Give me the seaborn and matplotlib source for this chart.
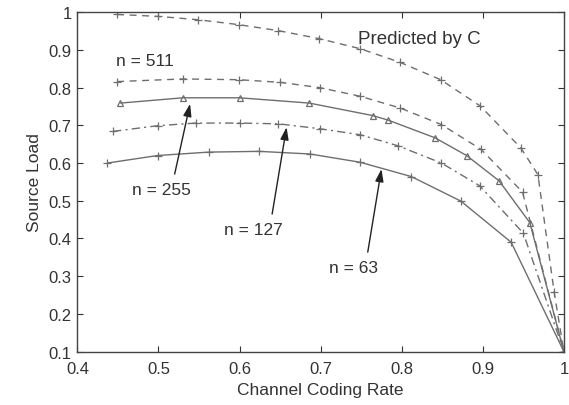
import matplotlib
matplotlib.use("Agg")
import matplotlib.pyplot as plt
import seaborn as sns
import pandas as pd

# Data
pred_x = [0.449, 0.499, 0.549, 0.599, 0.648, 0.698, 0.749, 0.798, 0.848, 0.897, 0.947, 0.968, 0.988, 1.0]
pred_y = [0.994, 0.989, 0.980, 0.967, 0.951, 0.930, 0.903, 0.867, 0.821, 0.751, 0.640, 0.569, 0.258, 0.1]

n511_x = [0.449, 0.530, 0.599, 0.650, 0.699, 0.749, 0.798, 0.849, 0.898, 0.949, 1.0]
n511_y = [0.816, 0.823, 0.821, 0.814, 0.800, 0.777, 0.746, 0.702, 0.636, 0.523, 0.1]

n255_x = [0.453, 0.530, 0.600, 0.686, 0.764, 0.783, 0.841, 0.880, 0.920, 0.958, 1.0]
n255_y = [0.759, 0.773, 0.773, 0.759, 0.726, 0.714, 0.667, 0.620, 0.553, 0.442, 0.1]

n127_x = [0.444, 0.499, 0.546, 0.600, 0.648, 0.699, 0.749, 0.795, 0.849, 0.896, 0.950, 1.0]
n127_y = [0.684, 0.699, 0.706, 0.706, 0.704, 0.691, 0.675, 0.646, 0.600, 0.540, 0.414, 0.1]

n63_x = [0.437, 0.499, 0.562, 0.624, 0.687, 0.749, 0.812, 0.873, 0.935, 1.0]
n63_y = [0.600, 0.620, 0.629, 0.631, 0.624, 0.602, 0.564, 0.499, 0.390, 0.1]

x_ticks = [0.4, 0.5, 0.6, 0.7, 0.8, 0.9, 1.0]
x_tick_labels = ["0.4", "0.5", "0.6", "0.7", "0.8", "0.9", "1"]
y_ticks = [0.1, 0.2, 0.3, 0.4, 0.5, 0.6, 0.7, 0.8, 0.9, 1.0]
y_tick_labels = ["0.1", "0.2", "0.3", "0.4", "0.5", "0.6", "0.7", "0.8", "0.9", "1"]

sns.set_theme(style="ticks")
plt.rcParams["font.family"] = ["Liberation Sans", "DejaVu Sans"]
plt.rcParams["xtick.direction"] = "in"
plt.rcParams["ytick.direction"] = "in"

fig = plt.figure(figsize=(5.69, 4.06), dpi=100)
ax = fig.add_axes([0.136, 0.1315, 0.855, 0.836])

line_col = "#6e6e6e"
series = [
    (pred_x, pred_y, (0, (5, 4)), "+", 6),
    (n511_x, n511_y, (0, (5, 4)), "+", 6),
    (n255_x, n255_y, "-", "^", 5),
    (n127_x, n127_y, (0, (6, 3, 1.5, 3)), "+", 6),
    (n63_x, n63_y, "-", "+", 6),
]
for xs, ys, ls, mk, ms in series:
    df = pd.DataFrame({"x": xs, "y": ys})
    sns.lineplot(data=df, x="x", y="y", ax=ax, sort=False, estimator=None,
                 color=line_col, linewidth=1.0, linestyle=ls,
                 marker=mk, markersize=ms, markerfacecolor="none",
                 markeredgecolor=line_col, markeredgewidth=0.9)

ax.set_xlim(0.4, 1.0)
ax.set_ylim(0.1, 1.0)
ax.set_xticks(x_ticks)
ax.set_xticklabels(x_tick_labels)
ax.set_yticks(y_ticks)
ax.set_yticklabels(y_tick_labels)
ax.tick_params(axis="both", which="both", direction="in", length=4, width=0.8,
               top=True, right=True, labelsize=12, colors="#333333")
ax.tick_params(axis="x", pad=7)
ax.tick_params(axis="y", pad=4)
for sp in ax.spines.values():
    sp.set_visible(True)
    sp.set_color("#444444")
    sp.set_linewidth(1.0)
ax.set_xlabel("Channel Coding Rate", fontsize=12.5, color="#333333", labelpad=4)
ax.set_ylabel("Source Load", fontsize=12.5, color="#333333", labelpad=5)

txt_kw = dict(fontsize=12.5, color="#333333", ha="center", va="center")
ax.text(0.483, 0.873, "n = 511", **txt_kw)
ax.text(0.822, 0.929, "Predicted by C", **dict(txt_kw, fontsize=13.5))

arrow_kw = dict(arrowstyle="-|>,head_length=0.6,head_width=0.2", color="#222222", lw=1.0)
ax.annotate("n = 255", xy=(0.539, 0.757), xytext=(0.504, 0.531),
            arrowprops=dict(arrow_kw, shrinkA=0, shrinkB=0, relpos=(0.72, 1.5)), **txt_kw)
ax.annotate("n = 127", xy=(0.658, 0.695), xytext=(0.617, 0.425),
            arrowprops=dict(arrow_kw, shrinkA=0, shrinkB=0, relpos=(0.82, 1.5)), **txt_kw)
ax.annotate("n = 63", xy=(0.775, 0.584), xytext=(0.740, 0.324),
            arrowprops=dict(arrow_kw, shrinkA=0, shrinkB=0, relpos=(0.8, 1.5)), **txt_kw)

fig.savefig("out.png", dpi=100)
